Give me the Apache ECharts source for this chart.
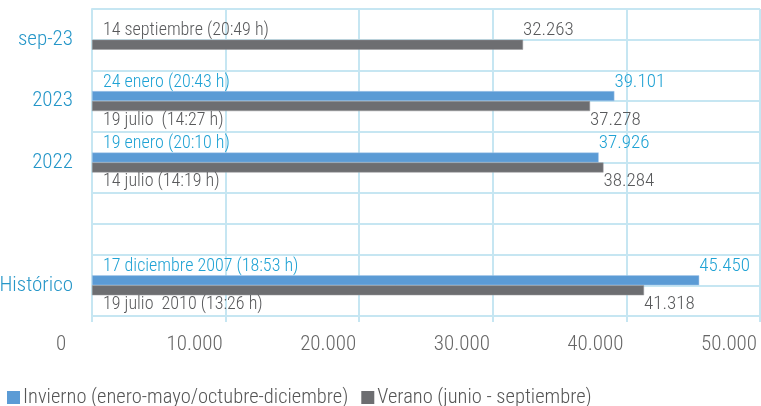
<!DOCTYPE html>
<html>
<head>
<meta charset="utf-8">
<script src="https://cdn.jsdelivr.net/npm/echarts@6/dist/echarts.min.js"></script>
<style>
	html, body { margin: 0; padding: 0; background: #fff; }
	#chart { width: 761px; height: 406px; }
</style>
</head>
<body>
<div id="chart"></div>
<script>
	// datos
	var categorias = ['sep-23', '2023', '2022', ' ', 'Histórico'];
	var invierno = [null, 39101, 37926, null, 45450];
	var verano = [32263, 37278, 38284, null, 41318];
	var fechaInvierno = ['', '24 enero (20:43 h)', '19 enero (20:10 h)', '', '17 diciembre 2007 (18:53 h)'];
	var fechaVerano = ['14 septiembre (20:49 h)', '19 julio  (14:27 h)', '14 julio (14:19 h)', '', '19 julio  2010 (13:26 h)'];
	var ticksX = [0, 10000, 20000, 30000, 40000, 50000];

	var fuente = '"Roboto Condensed", "DejaVu Sans Condensed", sans-serif';
	var azul = '#5b9bd5', gris = '#6d6e71';
	var txtAzul = '#1fa2d4', txtGris = '#58595b';
	var rejilla = '#c6e6f2';

	function miles(v) {
		return String(v).replace(/\B(?=(\d{3})+(?!\d))/g, '.');
	}

	// etiquetas encima o debajo de la barra
	var arriba = -9, abajo = 19;
	function posVerano(i) { return invierno[i] == null ? arriba : abajo; }

	var myChart = echarts.init(document.getElementById('chart'));

	option = {
		animation: false,
		textStyle: { fontFamily: fuente, fontWeight: 300 },
		grid: { left: 92, right: 1, top: 9, bottom: 90, outerBoundsMode: 'none' },
		legend: {
			data: ['Invierno (enero-mayo/octubre-diciembre)', 'Verano (junio - septiembre)'],
			left: 2, top: 382,
			icon: 'rect', itemWidth: 13, itemHeight: 13, itemGap: 13,
			itemStyle: { borderWidth: 0 },
			textStyle: { fontFamily: fuente, fontWeight: 300, fontSize: 20.5, color: '#555', padding: [0, 0, 0, -2] }
		},
		xAxis: [{
			type: 'value',
			min: ticksX[0], max: ticksX[ticksX.length - 1], interval: 10000,
			axisLine: { show: true, lineStyle: { color: rejilla, width: 2 } },
			axisTick: { show: true, length: 6, lineStyle: { color: rejilla, width: 2 } },
			splitLine: { lineStyle: { color: rejilla, width: 2 } },
			axisLabel: {
				formatter: function (v) { return miles(v); },
				color: '#666', fontFamily: fuente, fontWeight: 300, fontSize: 21, margin: 18,
				padding: [0, 62, 0, 0]
			}
		}],
		yAxis: [{
			type: 'category', data: categorias, inverse: true,
			axisLine: { lineStyle: { color: rejilla, width: 2 } },
			axisTick: { length: 9, lineStyle: { color: rejilla, width: 2 } },
			splitLine: { show: true, lineStyle: { color: rejilla, width: 2 } },
			axisLabel: { color: '#2596c8', fontFamily: fuente, fontWeight: 300, fontSize: 21, margin: 19 }
		}, {
			// lineas intermedias de la rejilla
			type: 'category', data: ['', '', '', '', '', '', '', '', '', ''], inverse: true,
			position: 'left',
			axisLine: { show: false }, axisTick: { show: false }, axisLabel: { show: false },
			splitLine: { show: true, lineStyle: { color: rejilla, width: 2 } }
		}, {
			// eje oculto para las etiquetas de fecha
			type: 'category', data: categorias, inverse: true, position: 'left',
			axisLine: { show: false }, axisTick: { show: false }, axisLabel: { show: false },
			splitLine: { show: false }
		}],
		series: [{
			name: 'Invierno (enero-mayo/octubre-diciembre)', type: 'bar', data: invierno,
			barWidth: 10, barGap: '0%',
			itemStyle: { color: azul, borderColor: '#a9c9ea', borderWidth: 0.5 },
			label: {
				show: true, position: ['100%', arriba], align: 'left', verticalAlign: 'middle',
				color: txtAzul, fontFamily: fuente, fontWeight: 300, fontSize: 19,
				formatter: function (p) { return miles(p.value); }
			}
		}, {
			name: 'Verano (junio - septiembre)', type: 'bar',
			data: verano.map(function (v, i) {
				return { value: v, label: { position: ['100%', posVerano(i)] } };
			}),
			barWidth: 10, barGap: '0%',
			itemStyle: { color: gris, borderColor: '#9a9b9e', borderWidth: 0.5 },
			label: {
				show: true, align: 'left', verticalAlign: 'middle',
				color: txtGris, fontFamily: fuente, fontWeight: 300, fontSize: 19,
				formatter: function (p) { return miles(p.value); }
			}
		}, {
			name: 'fechaInvierno', type: 'bar', yAxisIndex: 2, data: invierno,
			barWidth: 10, barGap: '0%', silent: true,
			itemStyle: { color: 'transparent' },
			label: {
				show: true, position: [11, arriba], align: 'left', verticalAlign: 'middle',
				color: txtAzul, fontFamily: fuente, fontWeight: 300, fontSize: 18,
				formatter: function (p) { return fechaInvierno[p.dataIndex]; }
			}
		}, {
			name: 'fechaVerano', type: 'bar', yAxisIndex: 2,
			data: verano.map(function (v, i) {
				return { value: v, label: { position: [11, posVerano(i)] } };
			}),
			barWidth: 10, barGap: '0%', silent: true,
			itemStyle: { color: 'transparent' },
			label: {
				show: true, align: 'left', verticalAlign: 'middle',
				color: txtGris, fontFamily: fuente, fontWeight: 300, fontSize: 18,
				formatter: function (p) { return fechaVerano[p.dataIndex]; }
			}
		}]
	};

	myChart.setOption(option);
</script>
</body>
</html>
